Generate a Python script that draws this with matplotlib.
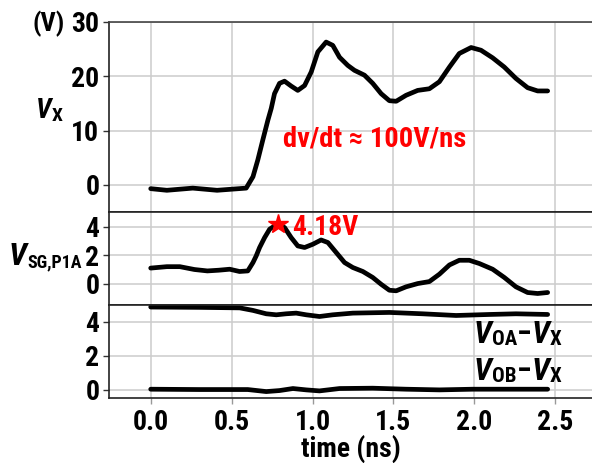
import matplotlib
matplotlib.use("Agg")
import matplotlib.pyplot as plt
from matplotlib import font_manager as fm
from matplotlib.transforms import IdentityTransform

names = {f.name for f in fm.fontManager.ttflist}
FAM = "Liberation Sans"
for cand in ["Liberation Sans Narrow", "Arial Narrow", "Roboto Condensed"]:
    if cand in names:
        FAM = cand
        break

plt.rcParams['font.family'] = [FAM, 'DejaVu Sans']
plt.rcParams['font.weight'] = 'bold'

# ---- data ----
t_vx = [0.00, 0.10, 0.26, 0.41, 0.50, 0.59, 0.632, 0.662, 0.693, 0.724, 0.745, 0.765,
        0.796, 0.827, 0.868, 0.909, 0.951, 0.992, 1.033, 1.084, 1.125, 1.167, 1.218,
        1.259, 1.321, 1.372, 1.424, 1.475, 1.517, 1.578, 1.650, 1.722, 1.784, 1.846,
        1.907, 1.980, 2.041, 2.113, 2.185, 2.257, 2.329, 2.391, 2.453]
v_x = [-0.7, -1.0, -0.6, -1.0, -0.8, -0.6, 1.5, 4.6, 8.3, 11.9, 14.1, 16.8,
       18.7, 19.1, 18.2, 17.4, 18.3, 20.8, 24.5, 26.3, 25.7, 23.5, 22.0,
       21.1, 20.2, 18.7, 16.8, 15.5, 15.4, 16.5, 17.4, 17.7, 19.0, 21.7,
       24.2, 25.3, 24.8, 23.4, 21.7, 19.6, 17.9, 17.3, 17.3]

t_vsg = [0.00, 0.10, 0.18, 0.27, 0.35, 0.42, 0.488, 0.549, 0.600, 0.632, 0.652, 0.673,
         0.704, 0.735, 0.780, 0.827, 0.868, 0.909, 0.951, 1.002, 1.053, 1.095, 1.146,
         1.198, 1.249, 1.311, 1.372, 1.424, 1.475, 1.517, 1.578, 1.650, 1.722, 1.784,
         1.846, 1.907, 1.969, 2.031, 2.113, 2.185, 2.257, 2.329, 2.391, 2.453]
v_sg = [1.1, 1.2, 1.2, 1.0, 0.9, 0.95, 1.02, 0.86, 0.9, 1.49, 1.96, 2.55,
        3.25, 3.84, 4.18, 3.96, 3.25, 2.66, 2.55, 2.78, 3.08, 2.9, 2.2,
        1.49, 1.14, 0.86, 0.44, -0.04, -0.46, -0.5, -0.22, 0.01, 0.15, 0.67,
        1.32, 1.65, 1.65, 1.42, 1.02, 0.44, -0.22, -0.62, -0.69, -0.62]

t_oa = [0.00, 0.30, 0.55, 0.632, 0.714, 0.776, 0.837, 0.899, 0.961, 1.043, 1.125,
        1.249, 1.475, 1.680, 1.887, 2.093, 2.257, 2.453]
v_oa = [4.88, 4.86, 4.83, 4.68, 4.48, 4.42, 4.48, 4.52, 4.42, 4.32, 4.42,
        4.52, 4.56, 4.48, 4.38, 4.44, 4.48, 4.44]

t_ob = [0.00, 0.30, 0.60, 0.714, 0.796, 0.879, 0.961, 1.043, 1.167, 1.372, 1.578,
        1.784, 1.990, 2.200, 2.453]
v_ob = [0.02, 0.0, 0.0, -0.12, -0.06, 0.06, -0.02, -0.08, 0.06, 0.08, 0.02,
        -0.02, 0.02, 0.02, 0.02]

peak_t, peak_v = 0.786, 4.18

xticks = [0.0, 0.5, 1.0, 1.5, 2.0, 2.5]

W, H = 592, 463
fig = plt.figure(figsize=(W / 100, H / 100), dpi=100)


def frac_y(py):
    return 1 - py / H


L = 109 / W
y_top, y_s1, y_s2, y_bot = 22, 212, 305, 398
ax1 = fig.add_axes([L, frac_y(y_s1), 1 - L, (y_s1 - y_top) / H])
ax2 = fig.add_axes([L, frac_y(y_s2), 1 - L, (y_s2 - y_s1) / H], sharex=ax1)
ax3 = fig.add_axes([L, frac_y(y_bot), 1 - L, (y_bot - y_s2) / H], sharex=ax1)

lw = 3.4
ax1.plot(t_vx, v_x, color='black', lw=lw, solid_capstyle='round', solid_joinstyle='round')
ax2.plot(t_vsg, v_sg, color='black', lw=lw, solid_capstyle='round', solid_joinstyle='round')
ax2.plot([peak_t], [peak_v], marker='*', color='red', markersize=15, ls='none', zorder=5)
ax3.plot(t_oa, v_oa, color='black', lw=lw, solid_capstyle='round', solid_joinstyle='round')
ax3.plot(t_ob, v_ob, color='black', lw=lw, solid_capstyle='round', solid_joinstyle='round')

ax1.set_xlim(-0.2577, 2.727)
ax1.set_ylim(-5, 30)
ax1.set_yticks([0, 10, 20, 30])
ax2.set_ylim(-1.5, 5.05)
ax2.set_yticks([0, 2, 4])
ax3.set_ylim(-0.5, 5.0)
ax3.set_yticks([0, 2, 4])
ax3.set_xticks(xticks)
ax3.set_xticklabels([f"{v:.1f}" for v in xticks])

TS = 20
for ax in (ax1, ax2, ax3):
    ax.grid(True, color='#cccccc', lw=1.1)
    ax.set_axisbelow(True)
    ax.spines['right'].set_visible(False)
    for s in ('left', 'top', 'bottom'):
        ax.spines[s].set_color('#222222')
        ax.spines[s].set_linewidth(1.2)
    ax.tick_params(axis='y', labelsize=TS, length=4, width=1, color='#333333', pad=3)
    ax.tick_params(axis='x', labelsize=TS, length=4, width=1, color='#999999', pad=4)
    for lab in ax.get_yticklabels() + ax.get_xticklabels():
        lab.set_fontweight('bold')
ax1.tick_params(axis='x', labelbottom=False, length=0)
ax2.tick_params(axis='x', labelbottom=False, length=0)
ax1.spines['top'].set_color('#444444')

ax3.set_xlabel('time (ns)', fontsize=20, fontweight='bold', labelpad=-1)

ID = IdentityTransform()


def rich(px, baseline_py, pieces):
    """Place text pieces one after another; pieces = (text, size, style, dy_px)."""
    fig.canvas.draw()
    r = fig.canvas.get_renderer()
    x = px
    for s, size, style, dy in pieces:
        t = fig.text(x, H - baseline_py + dy, s, fontsize=size, fontstyle=style,
                     fontweight='bold', transform=ID, ha='left', va='baseline')
        x += t.get_window_extent(r).width


fig.text(33, H - 24, '(V)', fontsize=19, fontweight='bold', ha='left', va='center',
         transform=ID)
rich(36, 118, [('V', 20, 'italic', 0), ('X', 14, 'normal', -3)])
rich(9, 265, [('V', 23, 'italic', 0), ('SG,P1A', 13, 'normal', -2)])
rich(474, 343, [('V', 23, 'italic', 0), ('OA', 15, 'normal', -2), ('\u2212', 22, 'normal', 0),
                ('V', 23, 'italic', 0), ('X', 15, 'normal', -2)])
rich(474, 380, [('V', 23, 'italic', 0), ('OB', 15, 'normal', -2), ('\u2212', 22, 'normal', 0),
                ('V', 23, 'italic', 0), ('X', 15, 'normal', -2)])

ax1.text(0.815, 8.4, 'dv/dt \u2248 100V/ns', color='red', fontsize=20.5, fontweight='bold',
         ha='left', va='center')
ax2.text(0.877, 3.94, '4.18V', color='red', fontsize=20, fontweight='bold',
         ha='left', va='center')

fig.savefig('out.png', dpi=100)
